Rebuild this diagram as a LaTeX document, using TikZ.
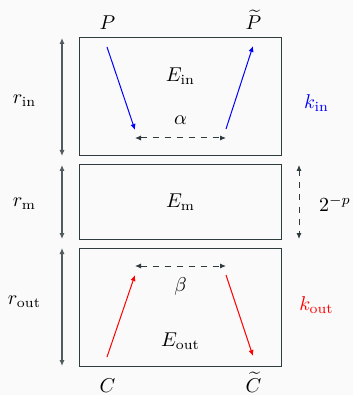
\documentclass[tikz,border=0pt]{standalone}
\usepackage{amsmath}
\usepackage{xcolor}
\usetikzlibrary{positioning,arrows.meta}
\definecolor{paper}{RGB}{250,250,250}
\definecolor{slate}{RGB}{47,60,62}
\definecolor{dimgray}{RGB}{82,92,94}

\begin{document}
\begin{tikzpicture}[
    node distance=4.5pt,
    box/.style={rectangle, draw=slate, fill=paper, minimum width=100.5pt, inner sep=0pt, outer sep=0pt, line width=0.5pt},
    dim/.style={{Latex[length=3pt,width=2.6pt]}-{Latex[length=3pt,width=2.6pt]}, color=dimgray, line width=0.6pt},
    gap/.style={{Latex[length=3pt,width=2.6pt]}-{Latex[length=3pt,width=2.6pt]}, dashed, color=slate, line width=0.5pt},
    inarrow/.style={-{Latex[length=3pt,width=2.6pt]}, blue, line width=0.5pt},
    outarrow/.style={-{Latex[length=3pt,width=2.6pt]}, red, line width=0.5pt},
    end/.style={anchor=base}
]
% Background
\path[use as bounding box, fill=paper] (-90.25pt,48.5pt) rectangle (86.25pt,-149pt);

% Boxes
\node[box, minimum height=59pt] (inbox) at (0,0) {};
\node[box, minimum height=37pt, below=of inbox] (mbox) {$E_{\text{m}}$};
\node[box, minimum height=59pt, below=of mbox] (outbox) {};

% Inside
\node (ein) at ([yshift=-19pt]inbox.north) {$E_{\text{in}}$};
\node (alpha) at ([yshift=18pt]inbox.south) {$\alpha$};
\node (beta) at ([yshift=-19pt]outbox.north) {$\beta$};
\node (eout) at ([yshift=12.5pt]outbox.south) {$E_{\text{out}}$};

% Ends
\node[end] (p) at ([shift={(-36.5pt,4.25pt)}]inbox.north) {$P$};
\node[end] (pt) at ([shift={(36.5pt,4.25pt)}]inbox.north) {$\widetilde{P}$};
\node[end] (c) at ([shift={(-36.5pt,-13pt)}]outbox.south) {$C$};
\node[end] (ct) at ([shift={(36.5pt,-13pt)}]outbox.south) {$\widetilde{C}$};

% Side labels
\node (rin) at ([shift={(-27.75pt,-2pt)}]inbox.west) {$r_{\text{in}}$};
\node (rm) at ([shift={(-27.75pt,-1pt)}]mbox.west) {$r_{\text{m}}$};
\node (rout) at ([shift={(-27.75pt,2.75pt)}]outbox.west) {$r_{\text{out}}$};
\node[blue] (kin) at ([shift={(17.75pt,-3pt)}]inbox.east) {$k_{\text{in}}$};
\node (step) at ([shift={(27pt,-1pt)}]mbox.east) {$2^{-p}$};
\node[red] (kout) at ([shift={(17.75pt,1pt)}]outbox.east) {$k_{\text{out}}$};

% Points
\coordinate (in1) at ([shift={(-36.75pt,-4.5pt)}]inbox.north);
\coordinate (in2) at ([shift={(-22.75pt,13pt)}]inbox.south);
\coordinate (in3) at ([shift={(22.75pt,13.5pt)}]inbox.south);
\coordinate (in4) at ([shift={(36.25pt,-4pt)}]inbox.north);
\coordinate (out1) at ([shift={(-36.75pt,4.5pt)}]outbox.south);
\coordinate (out2) at ([shift={(-22.75pt,-13.5pt)}]outbox.north);
\coordinate (out3) at ([shift={(22.75pt,-13.5pt)}]outbox.north);
\coordinate (out4) at ([shift={(36.25pt,5pt)}]outbox.south);

% Arrows
\draw[inarrow] (in1) -- (in2);
\draw[inarrow] (in3) -- (in4);
\draw[outarrow] (out1) -- (out2);
\draw[outarrow] (out3) -- (out4);
\draw[gap] ([shift={(-22.75pt,9pt)}]inbox.south) -- ([shift={(22.75pt,9pt)}]inbox.south);
\draw[gap] ([shift={(-22.75pt,-9pt)}]outbox.north) -- ([shift={(22.75pt,-9pt)}]outbox.north);

% Dimensions
\draw[dim] ([xshift=-9pt]inbox.north west) -- ([xshift=-9pt]inbox.south west);
\draw[dim] ([xshift=-9pt]mbox.north west) -- ([xshift=-9pt]mbox.south west);
\draw[dim] ([xshift=-9pt]outbox.north west) -- ([xshift=-9pt]outbox.south west);
\draw[gap] ([xshift=9pt]mbox.north east) -- ([xshift=9pt]mbox.south east);
\end{tikzpicture}
\end{document}
